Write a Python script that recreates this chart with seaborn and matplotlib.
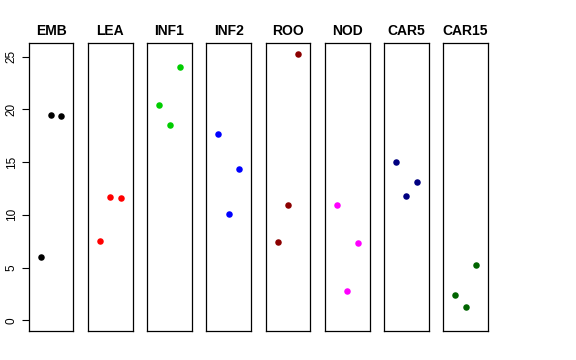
import matplotlib
matplotlib.use("Agg")
import matplotlib.pyplot as plt
import pandas as pd
import seaborn as sns

# tissues and their colours
tissues = ["EMB", "LEA", "INF1", "INF2", "ROO", "NOD", "CAR5", "CAR15"]
colors = ["#000000", "#FF0000", "#00CD00", "#0000FF", "#8B0000", "#FF00FF", "#000080", "#006400"]

# three replicates per tissue
rep = [1, 2, 3]
emb = [6.0, 19.5, 19.4]
lea = [7.5, 11.7, 11.55]
inf1 = [20.4, 18.55, 24.0]
inf2 = [17.65, 10.05, 14.35]
roo = [7.4, 10.9, 25.25]
nod = [10.95, 2.75, 7.35]
car5 = [15.0, 11.75, 13.1]
car15 = [2.4, 1.3, 5.2]

values = [emb, lea, inf1, inf2, roo, nod, car5, car15]
data = pd.DataFrame({
    "tissue": [t for t in tissues for _ in rep],
    "rep": rep * len(tissues),
    "value": [v for vals in values for v in vals],
})

sns.set_style("white")
plt.rcParams["font.family"] = ["Liberation Sans", "DejaVu Sans"]
plt.rcParams["text.color"] = "black"
plt.rcParams["ytick.color"] = "black"
plt.rcParams["ytick.labelcolor"] = "black"

g = sns.FacetGrid(data, col="tissue", hue="tissue", col_order=tissues,
                  hue_order=tissues, palette=colors, sharey=True, despine=False)
g.map(plt.scatter, "rep", "value", s=22, linewidths=0)
g.figure.set_size_inches(5.76, 3.6)
g.figure.subplots_adjust(left=0.0498, right=0.8472, top=0.8797, bottom=0.0806, wspace=0.323)

ymax = 25.25
pad = 0.04 * ymax
for i, ax in enumerate(g.axes.flat):
    ax.set_title(tissues[i], fontsize=10, fontweight="bold", pad=6, color="black")
    ax.set_xlim(-0.16, 4.16)
    ax.set_ylim(-pad, ymax + pad)
    ax.set_xticks([])
    ax.set_xlabel("")
    ax.set_ylabel("")
    for sp in ax.spines.values():
        sp.set_color("black")
        sp.set_linewidth(0.9)
    if i == 0:
        ax.set_yticks([0, 5, 10, 15, 20, 25])
        ax.tick_params(axis="y", left=True, length=5, width=0.8, labelsize=8.5,
                       labelrotation=90, pad=3, colors="black")
        for lab in ax.get_yticklabels():
            lab.set_va("center")
    else:
        ax.tick_params(axis="y", left=False, labelleft=False)

g.figure.savefig("out.png", dpi=100)
